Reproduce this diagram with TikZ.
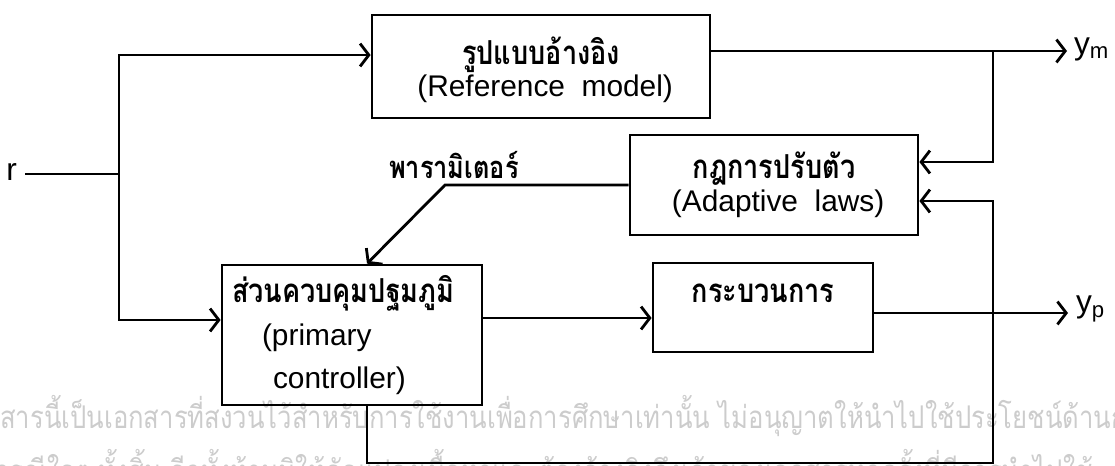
\documentclass[tikz,border=0pt]{standalone}
\usepackage{fontspec}
\setmainfont{Liberation Sans}
\newfontfamily\thai[Script=Thai, FakeStretch=0.82]{Loma}
\newcommand\gras{\thai\bfseries\fontsize{18.8}{19}\selectfont}
\usetikzlibrary{arrows.meta}

\tikzset{
  bloc/.style={draw, line width=1.6pt, inner sep=0pt, align=center,
    font=\fontsize{17}{19}\selectfont},
  trait/.style={line width=1.6pt},
  fleche/.style={trait, -{Straight Barb[length=5pt,width=13pt]}},
  etiq/.style={inner sep=1pt, font=\fontsize{18}{19}\selectfont},
  filigrane/.style={text=black!20, inner sep=0pt, font=\thai\fontsize{17.8}{20}\selectfont}
}

\begin{document}
\begin{tikzpicture}[x=0.02cm, y=-0.02cm]
  \useasboundingbox (0,0) rectangle (1115,466);

  %filigrane
  \begin{scope}
    \clip (0,0) rectangle (1115,466);
    \node[filigrane, anchor=base west] (wm1) at (0,428) {\llap{เอก}สารนี้เป็นเอกสารที่สงวนไว้สำหรับการใช้งานเพื่อการศึกษาเท่านั้น ไม่อนุญาตให้นำไปใช้ประโยชน์ด้านการค้า};
    \node[filigrane, anchor=base west] (wm2) at (-6,482) {\llap{ทางการค้าใน}กรณีใดๆ ทั้งสิ้น อีกทั้งห้ามมิให้ดัดแปลงเนื้อหาและต้องอ้างอิงถึงเจ้าของเอกสารทุกครั้งที่มีการนำไปใช้};
  \end{scope}

  %boites
  \node[bloc, minimum width=6.76cm, minimum height=2.06cm] (ref) at (541,66.5)
    {\raisebox{0pt}[19.5pt][0pt]{\gras รูปแบบอ้างอิง}\\[-0.5pt]\ (Reference\ \ model)};
  \node[bloc, minimum width=5.76cm, minimum height=2cm] (adapt) at (774,185)
    {\raisebox{0pt}[15pt][0pt]{\gras กฎการปรับตัว}\\[-0.5pt]\ (Adaptive\ \ laws)};
  \node[bloc, text width=4.8cm, inner sep=0.2cm, align=left, minimum height=2.8cm,
    font=\fontsize{17}{24.4}\selectfont] (ctrl) at (352,335)
    {{\gras ส่วนควบคุมปฐมภูมิ}\\\hspace*{0.6cm}(primary\\\hspace*{0.82cm}controller)};
  \node[bloc, font=\gras, minimum width=4.4cm, minimum height=1.78cm, text height=0.4cm,
    text depth=0.62cm] (proc) at (763,307.5) {กระบวนการ};

  %entree r
  \node[etiq, anchor=east] (r) at (19,172) {r};
  \coordinate (nr) at (119,174);
  \coordinate (bas) at (119,320);
  \draw[trait] (r.east |- nr) ++(6,0) -- (nr);
  \draw[fleche] (nr) |- ([yshift=0.23cm]ref.west);
  \draw[fleche] (nr) |- (ctrl.west |- bas);

  %sorties
  \coordinate (ym) at (1067,51);
  \coordinate (bm) at (993,51);
  \node[etiq, anchor=west] (ymlbl) at (1072,49) {y\textsubscript{m}};
  \draw[fleche] (ref.east |- ym) -- (ym);
  \draw[fleche] (bm) |- ([yshift=0.46cm]adapt.east);

  \coordinate (yp) at (1068,313);
  \node[etiq, anchor=west] (yplbl) at (1074,309) {y\textsubscript{p}};
  \draw[fleche] ([yshift=0.34cm]ctrl.east) coordinate (u) -- (proc.west |- u);
  \draw[fleche] (proc.east |- yp) -- (yp);

  %retour
  \coordinate (fb) at (993,463);
  \draw[fleche] ([xshift=0.3cm]ctrl.south) |- (fb) |- ([yshift=-0.32cm]adapt.east);

  %parametres
  \coordinate (coude) at (445,185);
  \node[anchor=south west, inner sep=1pt, font=\thai\bfseries\fontsize{17.6}{19}\selectfont] (param) at (387,181) {พารามิเตอร์};
  \draw[fleche] (adapt.west) -- (coude) -- ([xshift=0.3cm]ctrl.north);
\end{tikzpicture}
\end{document}
